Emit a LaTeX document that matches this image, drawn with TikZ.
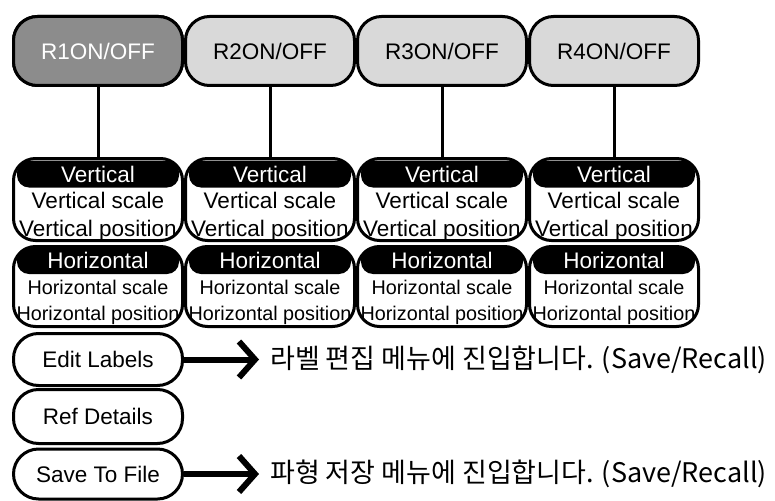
\documentclass[tikz,border=0pt]{standalone}
\usepackage{fontspec}
\setmainfont{Liberation Sans}
\newfontfamily\krfont{Noto Sans CJK KR}
\usetikzlibrary{
	arrows.meta,
	positioning
}

\definecolor{onfill}{RGB}{140,140,140}
\definecolor{offfill}{RGB}{217,217,217}

\tikzset{
	onoff/.style={draw, line width=3pt, rounded corners=24pt, minimum width=169pt, minimum height=69pt, fill=offfill, font=\fontsize{22.5}{27}\selectfont},
	group/.style={draw, line width=3pt, rounded corners=22pt, minimum width=169pt, fill=white},
	head/.style={fill=black, text=white, rounded corners=12pt, minimum width=162pt, minimum height=27pt, inner sep=0pt, font=\fontsize{22.5}{27}\selectfont},
	vtext/.style={align=center, inner sep=0pt, font=\fontsize{22.5}{28}\selectfont},
	htext/.style={align=center, inner sep=0pt, font=\fontsize{19.8}{26}\selectfont},
	menu/.style={draw, line width=3pt, rounded corners=25pt, minimum width=169pt, fill=white, font=\fontsize{22.5}{27}\selectfont},
	note/.style={anchor=west, inner sep=0pt, font=\krfont\fontsize{27}{30}\selectfont},
	bigarrow/.style={line width=6pt, -{Straight Barb[length=16pt, width=36pt]}, shorten >=11pt}
}

\begin{document}
\begin{tikzpicture}[x=1pt, y=-1pt]
	\useasboundingbox (0,0) rectangle (775,500);
	\fill[white] (0,0) rectangle (775,500);
	% R1..R4 ON/OFF
	\foreach \i/\x in {1/98,2/270,3/442,4/614} {
		\node[onoff] (r\i) at (\x,51) {R\i ON/OFF};
	}
	\node[onoff, fill=onfill, text=white] at (r1) {R1ON/OFF};
	% Vertical / Horizontal
	\foreach \i/\x in {1/98,2/270,3/442,4/614} {
		\node[group, minimum height=82pt] (v\i) at (\x,199.5) {};
		\node[head] (vh\i) at (\x,174) {Vertical};
		\node[vtext] (vt\i) at (\x,217) {Vertical scale\\Vertical position};
		\node[group, minimum height=80pt] (h\i) at (\x,286.5) {};
		\node[head] (hh\i) at (\x,260.5) {Horizontal};
		\node[htext] (ht\i) at (\x,302) {Horizontal scale\\Horizontal position};
		\draw[line width=3pt] (r\i) -- (v\i);
	}
	% 메뉴
	\node[menu, minimum height=52pt] (edit) at (98,359.5) {Edit Labels};
	\node[menu, minimum height=54pt] (ref) at (98,416.5) {Ref Details};
	\node[menu, minimum height=50pt] (save) at (98,474) {Save To File};
	% 설명
	\node[note] (lab1) at (270,359.5) {라벨 편집 메뉴에 진입합니다. (Save/Recall)};
	\node[note] (lab2) at (270,474) {파형 저장 메뉴에 진입합니다. (Save/Recall)};
	\draw[bigarrow] (edit) -- (lab1);
	\draw[bigarrow] (save) -- (lab2);
\end{tikzpicture}
\end{document}
